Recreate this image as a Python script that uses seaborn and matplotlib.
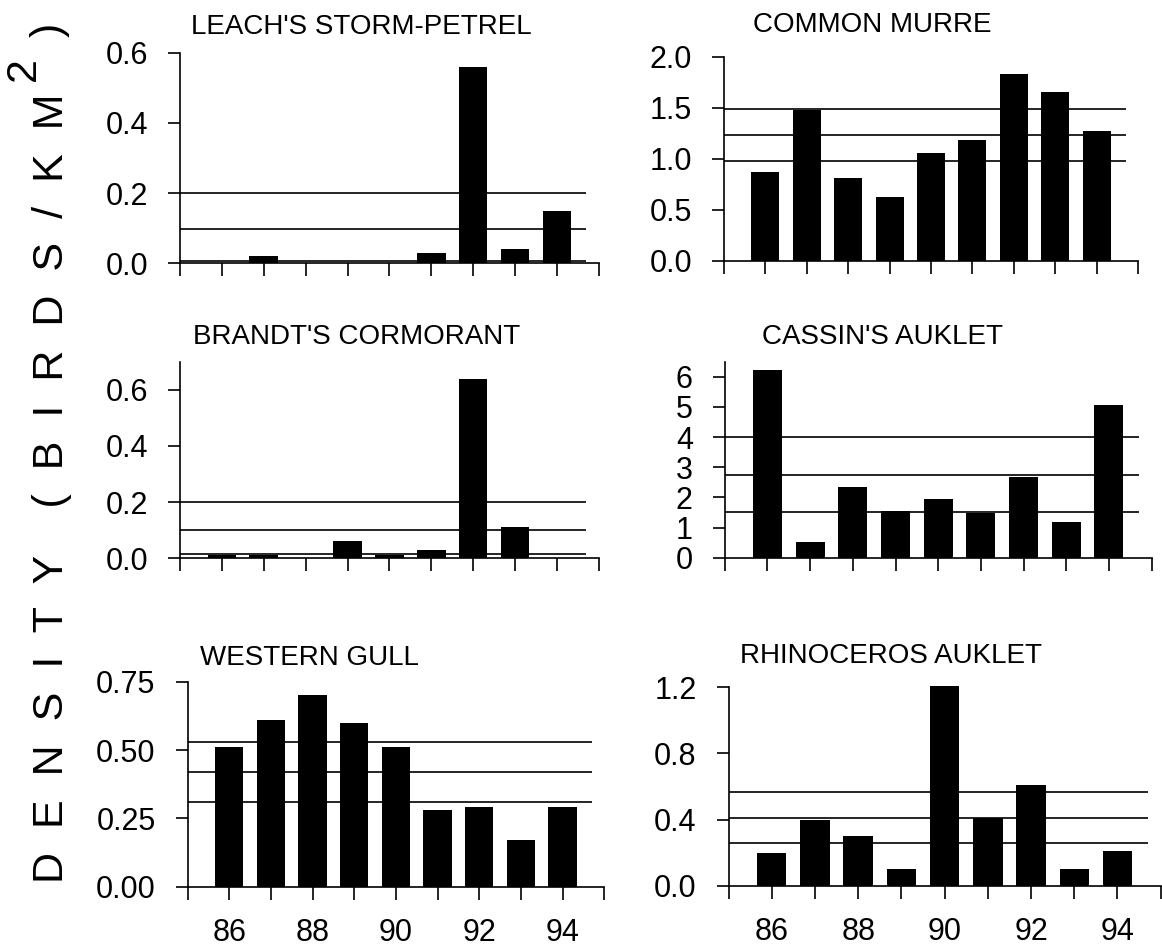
import matplotlib
matplotlib.use("Agg")
import matplotlib.pyplot as plt
import seaborn as sns
import pandas as pd

# ---------------- data ----------------
years = [86, 87, 88, 89, 90, 91, 92, 93, 94]

leach = [0.0, 0.02, 0.0, 0.0, 0.0, 0.03, 0.56, 0.04, 0.15]
murre = [0.87, 1.48, 0.81, 0.62, 1.06, 1.18, 1.83, 1.65, 1.27]
brandt = [0.01, 0.01, 0.0, 0.06, 0.01, 0.03, 0.64, 0.11, 0.0]
cassin = [6.22, 0.51, 2.33, 1.54, 1.96, 1.47, 2.66, 1.17, 5.07]
gull = [0.51, 0.61, 0.70, 0.60, 0.51, 0.28, 0.29, 0.17, 0.29]
rhino = [0.20, 0.40, 0.30, 0.10, 1.21, 0.41, 0.61, 0.10, 0.21]

# reference lines (lower, mean, upper)
leach_lines = [0.007, 0.097, 0.20]
murre_lines = [0.98, 1.23, 1.49]
brandt_lines = [0.014, 0.10, 0.20]
cassin_lines = [1.52, 2.75, 3.99]
gull_lines = [0.31, 0.42, 0.53]
rhino_lines = [0.26, 0.41, 0.565]

titles = ["LEACH'S STORM-PETREL", "COMMON MURRE", "BRANDT'S CORMORANT",
          "CASSIN'S AUKLET", "WESTERN GULL", "RHINOCEROS AUKLET"]
series = [leach, murre, brandt, cassin, gull, rhino]
ref_lines = [leach_lines, murre_lines, brandt_lines, cassin_lines, gull_lines, rhino_lines]
yticks = [[0, 0.2, 0.4, 0.6], [0, 0.5, 1.0, 1.5, 2.0], [0, 0.2, 0.4, 0.6],
          [0, 1, 2, 3, 4, 5, 6], [0, 0.25, 0.5, 0.75], [0, 0.4, 0.8, 1.2]]
ytick_fmt = ["{:.1f}", "{:.1f}", "{:.1f}", "{:d}", "{:.2f}", "{:.1f}"]
ytops = [0.6, 2.0, 0.7, 6.5, 0.75, 1.2]
xlabel_years = [86, 88, 90, 92, 94]

# ---------------- layout ----------------
W, H = 1162, 949
# left, right, top, bottom in pixels
rects_px = [(179.9, 598.9, 52.7, 263.3), (724.0, 1138.0, 56.7, 260.7),
            (179.9, 598.9, 361.7, 558.3), (724.8, 1151.6, 361.7, 557.7),
            (187.5, 604.2, 681.7, 886.7), (728.5, 1160.7, 687.3, 885.7)]
title_off = [(11, 19), (29, 25), (13, 18), (37, 18), (13, 17), (11, 24)]

sns.set_style("ticks")
plt.rcParams["font.family"] = ["Liberation Sans", "DejaVu Sans"]
plt.rcParams["axes.linewidth"] = 1.2
plt.rcParams["xtick.major.width"] = 1.2
plt.rcParams["ytick.major.width"] = 1.2
for k in ["text.color", "axes.labelcolor", "xtick.color", "ytick.color",
          "axes.edgecolor", "xtick.labelcolor", "ytick.labelcolor"]:
    plt.rcParams[k] = "black"

fig = plt.figure(figsize=(W / 100, H / 100), dpi=100)

for i in range(6):
    l, r, t, b = rects_px[i]
    ax = fig.add_axes([l / W, 1 - b / H, (r - l) / W, (b - t) / H])
    df = pd.DataFrame({"year": years, "density": series[i]})
    sns.barplot(data=df, x="year", y="density", native_scale=True, width=0.68,
                color="black", saturation=1, errorbar=None, linewidth=0, ax=ax, zorder=2)
    for p in ax.patches:
        p.set_clip_on(False)
    ax.hlines(ref_lines[i], 85, 94.7, colors="black", linewidth=1.2, zorder=1)
    ax.set_xlim(85, 95)
    ax.set_ylim(0, ytops[i])
    ax.set_xticks(range(85, 96))
    if i >= 4:
        ax.set_xticklabels([str(y) if y in xlabel_years else "" for y in range(85, 96)])
    else:
        ax.set_xticklabels([""] * 11)
    ax.set_yticks(yticks[i])
    ax.set_yticklabels([ytick_fmt[i].format(v) for v in yticks[i]])
    ax.tick_params(axis="x", length=9.5, pad=13, labelsize=22, direction="out", colors="black")
    ax.tick_params(axis="y", length=9, pad=14, labelsize=22, direction="out", colors="black")
    ax.set_xlabel("")
    ax.set_ylabel("")
    sns.despine(ax=ax)
    for s in ["left", "bottom"]:
        ax.spines[s].set_color("black")
    ax.annotate(titles[i], xy=(0, 1), xycoords="axes fraction",
                xytext=title_off[i], textcoords="offset pixels", color="black",
                ha="left", va="baseline", fontsize=20, annotation_clip=False)

# big spaced y label
main = fig.text(52 / W, 1 - 883 / H, "D  E  N  S  I  T  Y    (  B  I  R  D  S  /  K  M",
                rotation=90, ha="center", va="bottom", fontsize=31, color="black")
ax0 = fig.axes[0]
ax0.annotate("2", xy=(0.5, 1), xycoords=main, xytext=(-28, 24),
             textcoords="offset pixels", rotation=90, ha="center", va="center",
             fontsize=31, color="black", annotation_clip=False)
ax0.annotate(")", xy=(0.5, 1), xycoords=main, xytext=(-2, 64),
             textcoords="offset pixels", rotation=90, ha="center", va="center",
             fontsize=31, color="black", annotation_clip=False)

fig.savefig("out.png", dpi=100)
